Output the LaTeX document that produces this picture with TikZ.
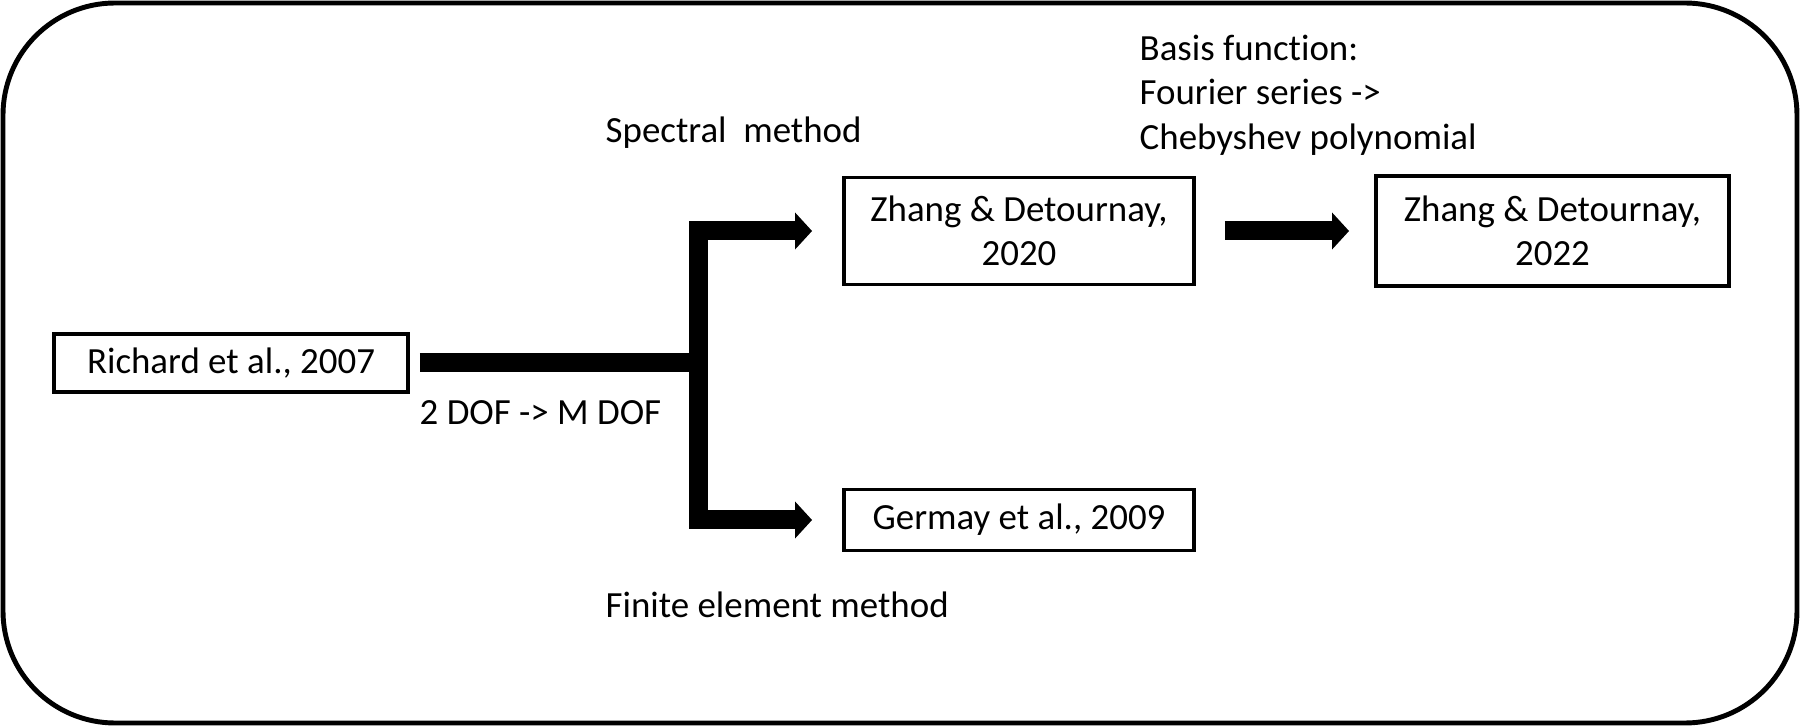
\documentclass[tikz,border=0pt]{standalone}
\usepackage{fontspec}
\setmainfont[Ligatures=NoCommon]{Carlito}
\usetikzlibrary{arrows.meta}

\begin{document}
\begin{tikzpicture}[
		paper/.style={draw, line width=1.1pt, inner sep=0, align=center},
		note/.style={inner sep=0, anchor=west, align=left},
		fat/.style={line width=0.19cm},
		fatarrow/.style={fat, -{Triangle[length=0.17cm, width=0.36cm]}},
		font=\fontsize{10.5}{12.6}\selectfont]
			\useasboundingbox (0,0) rectangle (18,7.27);
			\draw[line width=1.4pt, rounded corners=1.12cm] (0.03,0.04) rectangle (17.97,7.24);
			\node (richard) [paper, minimum width=3.54cm, minimum height=0.58cm] at (2.31,3.64) {Richard et al., 2007};
			\node (zhang20) [paper, minimum width=3.50cm, minimum height=1.07cm] at (10.19,4.96) {Zhang \& Detournay,\\2020};
			\node (zhang22) [paper, minimum width=3.53cm, minimum height=1.10cm] at (15.525,4.96) {Zhang \& Detournay,\\2022};
			\node (germay) [paper, minimum width=3.50cm, minimum height=0.61cm] at (10.19,2.07) {Germay et al., 2009};
			\node (spectral) [note] at (6.05,5.94) {Spectral\ \ method};
			\node (dof) [note] at (4.19,3.14) {2 DOF -> M DOF};
			\node (fem) [note] at (6.05,1.22) {Finite element method};
			\node (basis) [note] at (11.39,6.32) {Basis function:\\Fourier series ->\\Chebyshev polynomial};
			\coordinate (split) at (6.98,3.64);
			\draw[fat, shorten <=0.10cm] (richard.east) -- (split);
			\draw[fatarrow, shorten >=0.30cm] (split) |- (zhang20.west);
			\draw[fatarrow, shorten >=0.30cm] (split) |- (germay.west);
			\draw[fatarrow, shorten <=0.29cm, shorten >=0.25cm] (zhang20.east) -- (zhang22.west);

		\end{tikzpicture}
\end{document}
